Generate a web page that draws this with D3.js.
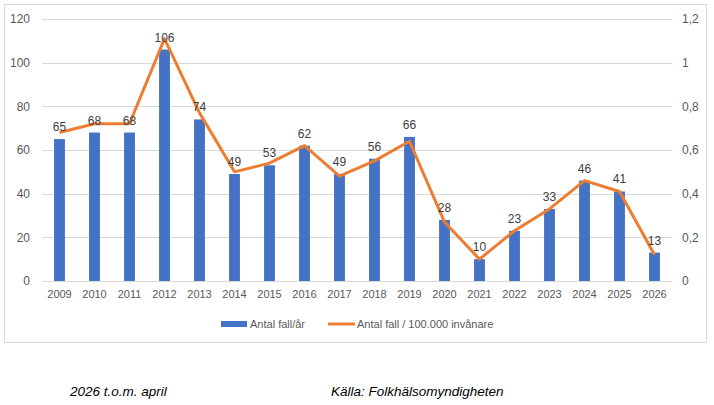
<!DOCTYPE html>
<html>
<head>
<meta charset="utf-8">
<script src="https://cdn.jsdelivr.net/npm/d3@7"></script>
<style>
  body { margin: 0; background: #fff; }
  text { font-family: "Liberation Sans", Arial, sans-serif; }
</style>
</head>
<body>
<script>
// Antal fall per år + antal fall per 100.000 invånare
const years = ['2009', '2010', '2011', '2012', '2013', '2014', '2015', '2016', '2017',
  '2018', '2019', '2020', '2021', '2022', '2023', '2024', '2025', '2026'];
const cases = [65, 68, 68, 106, 74, 49, 53, 62, 49, 56, 66, 28, 10, 23, 33, 46, 41, 13];
const casesPer100k = [0.68, 0.72, 0.72, 1.11, 0.77, 0.50, 0.54, 0.62, 0.48, 0.55, 0.64,
  0.27, 0.10, 0.23, 0.33, 0.46, 0.41, 0.12];
const leftTicks = [0, 20, 40, 60, 80, 100, 120];
const rightTicks = [0, 0.2, 0.4, 0.6, 0.8, 1, 1.2];

const width = 714;
const height = 405;
const plot = { left: 42, right: 672, top: 19, bottom: 281 };

const svg = d3.select('body').append('svg')
  .attr('width', width)
  .attr('height', height);

// chart frame
svg.append('rect')
  .attr('x', 4.5)
  .attr('y', 4.5)
  .attr('width', 702)
  .attr('height', 338)
  .attr('fill', '#fff')
  .attr('stroke', '#d9d9d9');

const xScale = d3.scaleBand()
  .domain(years)
  .range([plot.left, plot.right])
  .paddingInner(0.69)
  .paddingOuter(0.345);

const yLeft = d3.scaleLinear().domain([0, 120]).range([plot.bottom, plot.top]);
const yRight = d3.scaleLinear().domain([0, 1.2]).range([plot.bottom, plot.top]);

// gridlines
svg.append('g')
  .selectAll('line')
  .data(leftTicks)
  .enter()
  .append('line')
  .attr('x1', plot.left)
  .attr('x2', plot.right)
  .attr('y1', d => Math.round(yLeft(d)) + 0.5)
  .attr('y2', d => Math.round(yLeft(d)) + 0.5)
  .attr('stroke', '#d9d9d9');

// left axis
const leftAxis = svg.append('g')
  .attr('transform', `translate(${plot.left}, 0)`)
  .call(d3.axisLeft(yLeft).tickValues(leftTicks).tickSize(0).tickPadding(12));
leftAxis.select('.domain').remove();
leftAxis.selectAll('text')
  .attr('font-size', 12)
  .attr('fill', '#595959');

// right axis
const rightAxis = svg.append('g')
  .attr('transform', `translate(${plot.right}, 0)`)
  .call(d3.axisRight(yRight).tickValues(rightTicks).tickSize(0).tickPadding(10)
    .tickFormat(d => String(d).replace('.', ',')));
rightAxis.select('.domain').remove();
rightAxis.selectAll('text')
  .attr('font-size', 12)
  .attr('fill', '#595959');

// bottom axis
const bottomAxis = svg.append('g')
  .attr('transform', `translate(0, ${plot.bottom})`)
  .call(d3.axisBottom(xScale).tickSize(0).tickPadding(9));
bottomAxis.select('.domain').remove();
bottomAxis.selectAll('text')
  .attr('font-size', 11)
  .attr('fill', '#595959');

// bars
svg.append('g')
  .selectAll('rect')
  .data(cases)
  .enter()
  .append('rect')
  .attr('x', (d, i) => xScale(years[i]))
  .attr('y', d => yLeft(d))
  .attr('width', xScale.bandwidth())
  .attr('height', d => plot.bottom - yLeft(d))
  .attr('fill', '#4472c4');

// line
const line = d3.line()
  .x((d, i) => xScale(years[i]) + xScale.bandwidth() / 2)
  .y(d => yRight(d));

svg.append('path')
  .datum(casesPer100k)
  .attr('d', line)
  .attr('fill', 'none')
  .attr('stroke', '#ed7d31')
  .attr('stroke-width', 3)
  .attr('stroke-linejoin', 'round');

// data labels
svg.append('g')
  .selectAll('text')
  .data(cases)
  .enter()
  .append('text')
  .attr('x', (d, i) => xScale(years[i]) + xScale.bandwidth() / 2)
  .attr('y', d => yLeft(d) - 8)
  .attr('text-anchor', 'middle')
  .attr('font-size', 12)
  .attr('fill', '#404040')
  .text(d => d);

// legend
const legend = svg.append('g');
legend.append('rect')
  .attr('x', 221)
  .attr('y', 321)
  .attr('width', 26)
  .attr('height', 6)
  .attr('fill', '#4472c4');
legend.append('text')
  .attr('x', 250)
  .attr('y', 328)
  .attr('font-size', 11)
  .attr('fill', '#595959')
  .text('Antal fall/år');
legend.append('line')
  .attr('x1', 328)
  .attr('x2', 355)
  .attr('y1', 324)
  .attr('y2', 324)
  .attr('stroke', '#ed7d31')
  .attr('stroke-width', 3);
legend.append('text')
  .attr('x', 357)
  .attr('y', 328)
  .attr('font-size', 11)
  .attr('fill', '#595959')
  .text('Antal fall / 100.000 invånare');

// notes below the chart
svg.append('text')
  .attr('x', 70)
  .attr('y', 396)
  .attr('font-size', 13.5)
  .attr('font-style', 'italic')
  .attr('fill', '#000')
  .text('2026 t.o.m. april');
svg.append('text')
  .attr('x', 331)
  .attr('y', 396)
  .attr('font-size', 13.5)
  .attr('font-style', 'italic')
  .attr('fill', '#000')
  .text('Källa: Folkhälsomyndigheten');
</script>
</body>
</html>
